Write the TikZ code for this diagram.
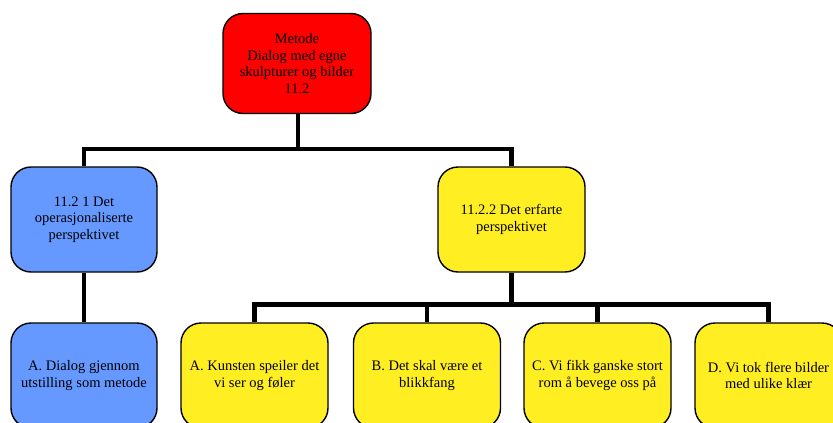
\documentclass[tikz,border=0pt]{standalone}
\usepackage{fontspec}
\setmainfont{Liberation Serif}
\begin{document}
\begin{tikzpicture}[x=1pt,y=-1pt,
  box/.style={draw=black, line width=1.4pt, rounded corners=20pt,
    minimum width=147pt, minimum height=105pt, inner sep=2pt,
    align=center, font=\fontsize{14.5}{16.7}\selectfont},
  redbox/.style={box, fill=red},
  bluebox/.style={box, fill={rgb,255:red,102;green,153;blue,255}},
  yellowbox/.style={box, fill={rgb,255:red,255;green,239;blue,34}},
  conn/.style={draw=black, line width=4.5pt, line join=miter}]
\useasboundingbox (0,0) rectangle (833,423);
\clip (0,0) rectangle (833,423);

% root
\node[redbox, minimum width=148pt, minimum height=100pt] (root) at (297,63.5)
  {Metode\\Dialog med egne\\skulpturer og bilder\\11.2};

% second level
\node[bluebox, minimum width=146pt] (opr) at (84,219.5)
  {11.2 1 Det\\operasjonaliserte\\perspektivet};
\node[yellowbox] (erf) at (511.5,219.5)
  {11.2.2 Det erfarte\\perspektivet};

% third level
\node[bluebox, minimum width=146pt] (dlg) at (84,375.5)
  {A. Dialog gjennom\\utstilling som metode};
\node[yellowbox] (ka) at (254.5,375.5)
  {A. Kunsten speiler det\\vi ser og føler};
\node[yellowbox] (kb) at (427,375.5)
  {B. Det skal være et\\blikkfang};
\node[yellowbox] (kc) at (597.5,375.5)
  {C. Vi fikk ganske stort\\rom å bevege oss på};
\node[yellowbox] (kd) at (768.5,375.5)
  {D. Vi tok flere bilder\\med ulike klær};

% junctions of the connector bars
\coordinate (j1) at (298,149);
\coordinate (j2) at (511.5,304.5);

% connectors
\draw[conn] (root.south -| j1) -- (j1);
\draw[conn] (opr.north) |- (j1) -| (erf.north);
\draw[conn] (opr.south) -- (dlg.north);
\draw[conn] (erf.south) -- (j2);
\draw[conn] (ka.north) |- (j2) -| (kd.north);
\draw[conn] (kb.north) -- (kb.north |- j2);
\draw[conn] (kc.north) -- (kc.north |- j2);
\end{tikzpicture}
\end{document}
